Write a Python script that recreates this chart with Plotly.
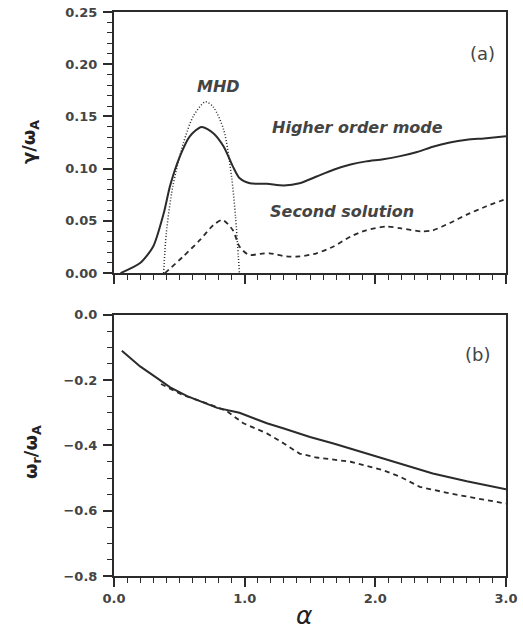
import plotly.graph_objects as go

# Panel (a): growth rate gamma/omega_A vs alpha
alpha_higher = [0.05, 0.2, 0.3, 0.38, 0.43, 0.505, 0.58, 0.67, 0.76, 0.84, 0.91, 0.96, 1.04, 1.17, 1.30,
                1.42, 1.55, 1.68, 1.81, 1.93, 2.06, 2.19, 2.32, 2.44, 2.57, 2.70, 2.83, 3.0]
gamma_higher = [0.0, 0.0096, 0.0255, 0.057, 0.084, 0.112, 0.131, 0.140, 0.134, 0.121, 0.102, 0.091, 0.086,
                0.0855, 0.084, 0.086, 0.0925, 0.099, 0.104, 0.107, 0.109, 0.112, 0.116, 0.121, 0.125,
                0.1276, 0.129, 0.131]

alpha_mhd = [0.38, 0.40, 0.45, 0.53, 0.61, 0.70, 0.76, 0.84, 0.90, 0.93, 0.96]
gamma_mhd = [0.0, 0.038, 0.083, 0.124, 0.151, 0.164, 0.159, 0.137, 0.092, 0.054, 0.0]

alpha_second = [0.39, 0.53, 0.66, 0.76, 0.83, 0.91, 0.96, 1.03, 1.12, 1.19, 1.32, 1.42, 1.55, 1.68, 1.81,
                1.93, 2.09, 2.19, 2.35, 2.44, 2.57, 2.70, 2.85, 3.0]
gamma_second = [0.0, 0.016, 0.032, 0.046, 0.051, 0.041, 0.0255, 0.0175, 0.0185, 0.019, 0.016, 0.016, 0.019,
                0.0255, 0.035, 0.041, 0.0446, 0.043, 0.040, 0.041, 0.048, 0.056, 0.064, 0.071]

# Panel (b): real frequency omega_r/omega_A vs alpha
alpha_b_higher = [0.06, 0.20, 0.33, 0.43, 0.56, 0.71, 0.79, 0.96, 1.17, 1.30, 1.50, 1.68, 1.93, 2.19, 2.44,
                  2.70, 3.0]
omega_b_higher = [-0.110, -0.158, -0.194, -0.222, -0.249, -0.274, -0.285, -0.300, -0.332, -0.348, -0.374,
                  -0.394, -0.425, -0.457, -0.486, -0.510, -0.534]

alpha_b_second = [0.36, 0.53, 0.71, 0.86, 0.99, 1.17, 1.30, 1.42, 1.55, 1.81, 2.06, 2.19, 2.34, 2.57,
                  2.83, 3.0]
omega_b_second = [-0.212, -0.246, -0.271, -0.294, -0.332, -0.363, -0.394, -0.425, -0.437, -0.450, -0.476,
                  -0.496, -0.527, -0.547, -0.566, -0.578]

x_ticks = [0.0, 1.0, 2.0, 3.0]
x_tick_labels = ["0.0", "1.0", "2.0", "3.0"]
ya_ticks = [0.0, 0.05, 0.10, 0.15, 0.20, 0.25]
ya_tick_labels = ["0.00", "0.05", "0.10", "0.15", "0.20", "0.25"]
yb_ticks = [0.0, -0.2, -0.4, -0.6, -0.8]
yb_tick_labels = ["0.0", "\u22120.2", "\u22120.4", "\u22120.6", "\u22120.8"]

INK = "#2b2b2b"
TXT = "#444444"
FONT = "DejaVu Sans"

fig = go.Figure()
fig.add_trace(go.Scatter(x=alpha_higher, y=gamma_higher, mode="lines",
                         line=dict(color=INK, width=2, shape="spline", smoothing=0.7),
                         xaxis="x", yaxis="y"))
fig.add_trace(go.Scatter(x=alpha_mhd, y=gamma_mhd, mode="lines",
                         line=dict(color=INK, width=1.5, dash="1px,2px", shape="spline", smoothing=0.8),
                         xaxis="x", yaxis="y"))
fig.add_trace(go.Scatter(x=alpha_second, y=gamma_second, mode="lines",
                         line=dict(color=INK, width=1.8, dash="5px,4px", shape="spline", smoothing=0.7),
                         xaxis="x", yaxis="y"))
fig.add_trace(go.Scatter(x=alpha_b_higher, y=omega_b_higher, mode="lines", line=dict(color=INK, width=2),
                         xaxis="x2", yaxis="y2"))
fig.add_trace(go.Scatter(x=alpha_b_second, y=omega_b_second, mode="lines",
                         line=dict(color=INK, width=1.8, dash="5px,4px"), xaxis="x2", yaxis="y2"))

axis_common = dict(showline=True, linecolor=INK, linewidth=2, mirror=True, showgrid=False, zeroline=False,
                   automargin=False, ticklabeloverflow="allow",
                   ticks="outside", tickcolor=INK, tickwidth=1.5, ticklen=9,
                   tickfont=dict(family=FONT, size=13, color=TXT, weight="bold"))
minor_common = dict(ticks="outside", ticklen=5, tickcolor=INK, tickwidth=1.2)

fig.update_layout(
    width=523, height=637,
    margin=dict(l=114, r=17, t=12, b=61),
    paper_bgcolor="white", plot_bgcolor="white",
    showlegend=False,
    xaxis=dict(domain=[0, 1], range=[0, 3], anchor="y", tickvals=x_ticks, ticktext=["", "", "", ""],
               ticklabelstandoff=0, minor=dict(dtick=0.1, **minor_common), **axis_common),
    yaxis=dict(domain=[0.537, 1.0], range=[0, 0.25], anchor="x", tickvals=ya_ticks, ticktext=ya_tick_labels,
               ticklabelstandoff=3, minor=dict(dtick=0.01, **minor_common), **axis_common),
    xaxis2=dict(domain=[0, 1], range=[0, 3], anchor="y2", tickvals=x_ticks, ticktext=x_tick_labels,
                ticklabelstandoff=0, minor=dict(dtick=0.1, **minor_common), **axis_common),
    yaxis2=dict(domain=[0.0, 0.463], range=[-0.8, 0.0], anchor="x2", tickvals=yb_ticks,
                ticktext=yb_tick_labels, ticklabelstandoff=3,
                minor=dict(dtick=0.05, **minor_common), **axis_common),
)

ann_font = dict(family=FONT, size=16, color=TXT, weight="bold")
fig.add_annotation(x=0.80, y=0.179, xref="x", yref="y", text="<i>MHD</i>", showarrow=False, font=ann_font)
fig.add_annotation(x=1.86, y=0.139, xref="x", yref="y", text="<i>Higher order mode</i>", showarrow=False,
                   font=ann_font)
fig.add_annotation(x=1.745, y=0.0594, xref="x", yref="y", text="<i>Second solution</i>", showarrow=False,
                   font=ann_font)
fig.add_annotation(x=2.82, y=0.2107, xref="x", yref="y", text="(a)", showarrow=False,
                   font=dict(family=FONT, size=18, color=TXT))
fig.add_annotation(x=2.785, y=-0.1226, xref="x2", yref="y2", text="(b)", showarrow=False,
                   font=dict(family=FONT, size=18, color=TXT))

fig.add_annotation(x=-0.214, y=0.7695, xref="paper", yref="paper", xanchor="center", yanchor="middle",
                   text="\u03b3/\u03c9<sub>A</sub>", textangle=-90, showarrow=False,
                   font=dict(family=FONT, size=18, color="#222222", weight="bold"))
fig.add_annotation(x=-0.209, y=0.2199, xref="paper", yref="paper", xanchor="center", yanchor="middle",
                   text="\u03c9<sub>r</sub>/\u03c9<sub>A</sub>", textangle=-90, showarrow=False,
                   font=dict(family=FONT, size=18, color="#222222", weight="bold"))
fig.add_annotation(x=0.487, y=-0.0709, xref="paper", yref="paper", xanchor="center", yanchor="middle",
                   text="<i>\u03b1</i>", showarrow=False,
                   font=dict(family=FONT, size=25, color="#222222"))

# Remove the default page margin so the figure sits at the window's top-left corner
fig.write_html("out.html", config={"displayModeBar": False},
               post_script="document.body.style.margin='0';")
